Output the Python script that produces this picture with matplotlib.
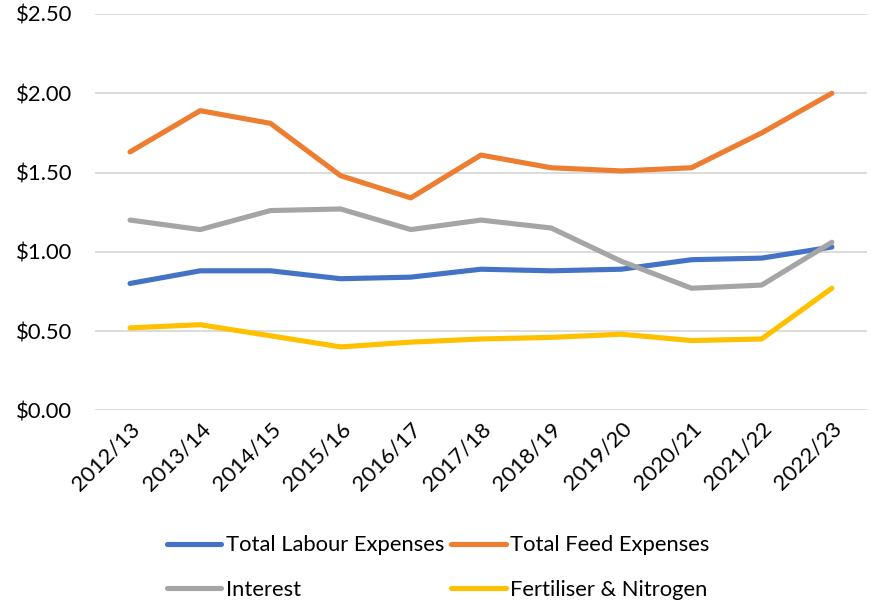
import matplotlib.pyplot as plt
from matplotlib.ticker import FuncFormatter

plt.rcParams['font.family'] = ['Lato', 'DejaVu Sans']

seasons = ['2012/13', '2013/14', '2014/15', '2015/16', '2016/17', '2017/18',
           '2018/19', '2019/20', '2020/21', '2021/22', '2022/23']

labour = [0.80, 0.88, 0.88, 0.83, 0.84, 0.89, 0.88, 0.89, 0.95, 0.96, 1.03]
feed = [1.63, 1.89, 1.81, 1.48, 1.34, 1.61, 1.53, 1.51, 1.53, 1.75, 2.00]
interest = [1.20, 1.14, 1.26, 1.27, 1.14, 1.20, 1.15, 0.94, 0.77, 0.79, 1.06]
fertiliser = [0.52, 0.54, 0.47, 0.40, 0.43, 0.45, 0.46, 0.48, 0.44, 0.45, 0.77]

series = [
    ('Total Labour Expenses', labour, '#4472C4'),
    ('Total Feed Expenses', feed, '#ED7D31'),
    ('Interest', interest, '#A5A5A5'),
    ('Fertiliser & Nitrogen', fertiliser, '#FFC000'),
]

fig = plt.figure(figsize=(8.76, 6.05), dpi=100)
ax = fig.add_axes([0.1084, 0.3218, 0.8813, 0.6551])

x = range(len(seasons))
lines = []
for name, vals, col in series:
    ln, = ax.plot(x, vals, color=col, lw=3.7, solid_capstyle='round',
                  solid_joinstyle='round', label=name)
    lines.append(ln)

ax.set_xlim(-0.5, len(seasons) - 0.5)
ax.set_ylim(0, 2.5)
ax.set_yticks([0, 0.5, 1.0, 1.5, 2.0, 2.5])
ax.yaxis.set_major_formatter(FuncFormatter(lambda v, _: f'${v:.2f}'))
ax.set_xticks(list(x))
ax.set_xticklabels(seasons, rotation=45, ha='right', rotation_mode='anchor')

ax.grid(axis='y', color='#D9D9D9', lw=1.3)
ax.set_axisbelow(True)
for s in ax.spines.values():
    s.set_visible(False)
ax.tick_params(axis='both', length=0, labelsize=15.8, colors='black')
ax.tick_params(axis='y', pad=16.5)
ax.tick_params(axis='x', pad=6)

# legend fills column-wise, so order entries to read row by row
order = [0, 2, 1, 3]
fig.legend([lines[i] for i in order], [series[i][0] for i in order],
           loc='center', bbox_to_anchor=(0.5, 0.062), ncol=2, frameon=False,
           fontsize=15.8, handlelength=2.5, handletextpad=0.2,
           columnspacing=0.3, labelspacing=1.1)

fig.savefig('out.png', dpi=100)
